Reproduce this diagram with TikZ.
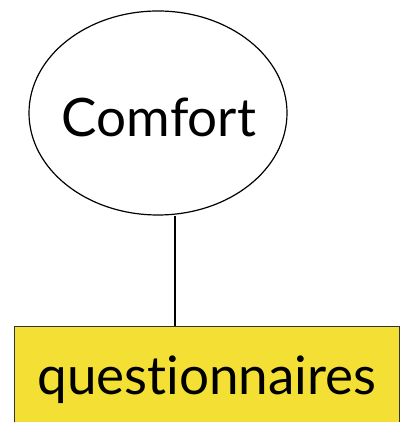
\documentclass[tikz,border=0pt]{standalone}
\usepackage{fontspec}
\setmainfont{Lato}[Ligatures={NoCommon,NoRare}]
\usetikzlibrary{shapes.geometric}
\definecolor{boxyellow}{HTML}{F4E034}
\tikzset{
  concept/.style={draw=black, line width=1.2pt, ellipse, minimum width=258pt, minimum height=204pt, inner sep=0pt},
  method/.style={draw=black!80, line width=1.2pt, fill=boxyellow, rectangle, minimum width=385pt, minimum height=110pt, inner sep=0pt, anchor=north west},
  link/.style={draw=black, line width=1.2pt},
  label/.style={font=\fontsize{53}{60}\selectfont, anchor=base, inner sep=0pt}
}
\begin{document}
\begin{tikzpicture}[x=1pt, y=1pt]
  \useasboundingbox (0,0) rectangle (405,422);
  \clip (0,0) rectangle (405,422);
  \node[concept] (comfort) at (158,309) {};
  \node[label] (comforttxt) at (159,285) {Comfort};
  \node[method] (quest) at (14,96) {};
  \node[label] (questtxt) at (207,27) {questionnaires};
  \coordinate (tap) at (175,96);
  \draw[link] (tap |- comfort.south) -- (tap);
\end{tikzpicture}
\end{document}
